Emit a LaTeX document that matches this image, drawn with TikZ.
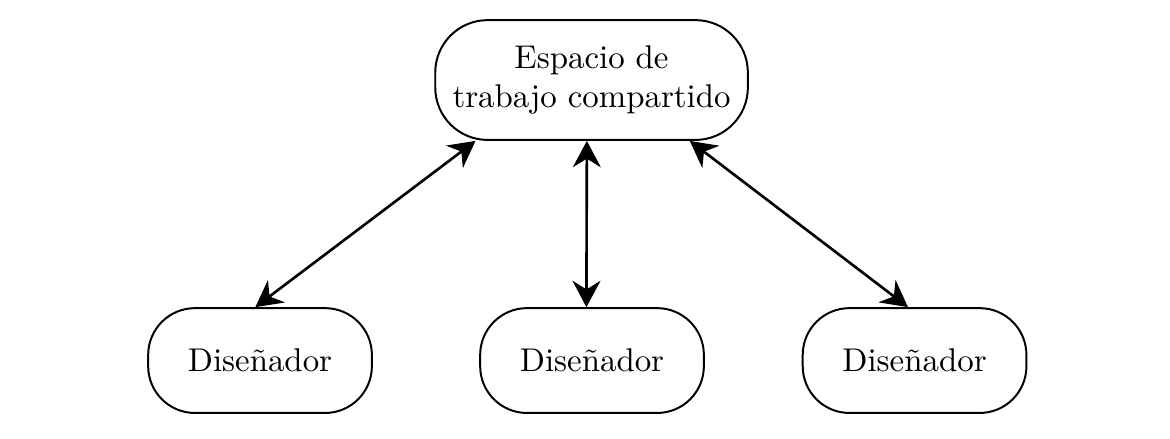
\documentclass[tikz,border=0pt]{standalone}
\usepackage{amsmath}
\usetikzlibrary{arrows.meta}

\begin{document}
\begin{tikzpicture}[
	caja/.style={rectangle, rounded corners=0.5cm, draw, semithick, align=center},
	flecha/.style={{Stealth[length=8pt,width=8.5pt]}-{Stealth[length=8pt,width=8.5pt]}, thick}
	]
	% 固定画布大小
	\useasboundingbox (0,0) rectangle (12.5,-4.68);
	
	% 上方的共享工作空间
	\node[caja, rounded corners=0.56cm, minimum width=3.34cm, minimum height=1.28cm] (espacio) at (6.32,-0.855) {Espacio de\\trabajo compartido};
	
	% 下方三个设计者
	\node[caja, minimum width=2.39cm, minimum height=1.12cm] (dis1) at (2.778,-3.852) {Diseñador};
	\node[caja, minimum width=2.39cm, minimum height=1.12cm] (dis2) at (6.325,-3.852) {Diseñador};
	\node[caja, minimum width=2.39cm, minimum height=1.12cm] (dis3) at (9.771,-3.852) {Diseñador};
	
	% 双向箭头
	\draw[flecha] ([xshift=-1.24cm]espacio.south) -- ([xshift=-0.05cm]dis1.north);
	\draw[flecha] ([xshift=-0.05cm]espacio.south) -- ([xshift=-0.06cm]dis2.north);
	\draw[flecha] ([xshift=1.05cm]espacio.south) -- ([xshift=-0.07cm]dis3.north);
\end{tikzpicture}
\end{document}
